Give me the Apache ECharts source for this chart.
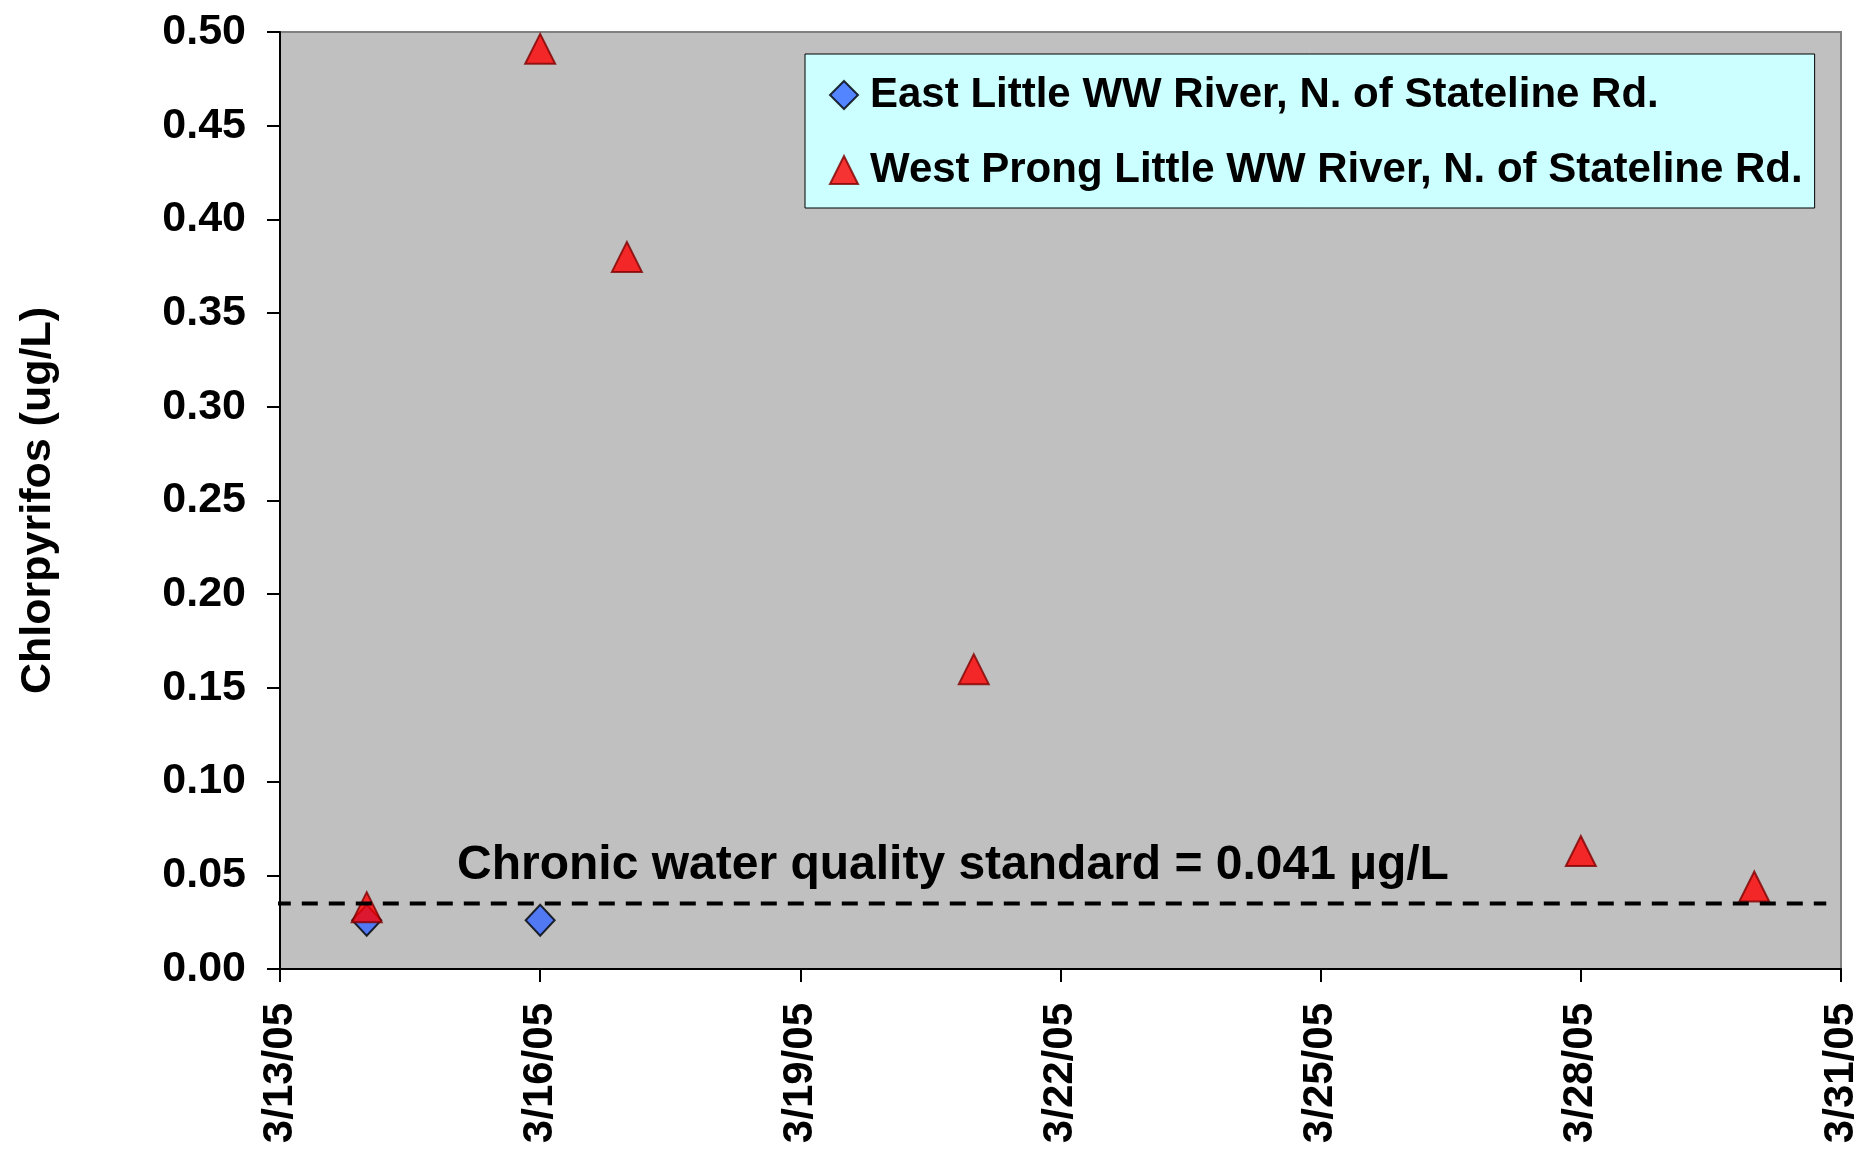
<!DOCTYPE html>
<html>
<head>
<meta charset="utf-8">
<script src="https://cdn.jsdelivr.net/npm/echarts@6/dist/echarts.min.js"></script>
<style>
html,body{margin:0;padding:0;background:#fff;}
#c{width:1862px;height:1154px;}
</style>
</head>
<body>
<div id="c"></div>
<script>
// Dates are day-of-March 2005
const xTickDays = [13, 16, 19, 22, 25, 28, 31];
const xTickLabels = ['3/13/05', '3/16/05', '3/19/05', '3/22/05', '3/25/05', '3/28/05', '3/31/05'];
const yTickLabels = ['0.00','0.05','0.10','0.15','0.20','0.25','0.30','0.35','0.40','0.45','0.50'];

const eastDates = ['3/14/05', '3/16/05'];
const eastValues = [0.026, 0.026];

const westDates = ['3/14/05', '3/16/05', '3/17/05', '3/21/05', '3/28/05', '3/30/05'];
const westValues = [0.033, 0.491, 0.380, 0.160, 0.063, 0.044];

// dashed reference line (drawn value) and its span in days
const standardLineValue = 0.035;
const standardLineSpan = [12.94, 30.83];
const standardText = 'Chronic water quality standard = 0.041 \u00b5g/L';
const standardTextPos = [20.76, 0.0550];

const seriesNames = ['East Little WW River, N. of Stateline Rd.', 'West Prong Little WW River, N. of Stateline Rd.'];

function dayOf(d) { return parseFloat(d.split('/')[1]); }

const FONT = '"Liberation Sans", Arial, sans-serif';

const chart = echarts.init(document.getElementById('c'), null, {renderer: 'canvas'});
chart.setOption({
  animation: false,
  backgroundColor: '#ffffff',
  grid: {
    left: 280, top: 32, right: 20, bottom: 185,
    show: true, backgroundColor: '#C0C0C0', borderColor: '#808080', borderWidth: 2
  },
  legend: {
    orient: 'vertical',
    left: 805, top: 54,
    padding: [20, 12, 17, 24],
    backgroundColor: '#CCFFFF',
    borderColor: '#000000',
    borderWidth: 1,
    itemGap: 33,
    itemWidth: 28, itemHeight: 28,
    textStyle: {fontFamily: FONT, fontWeight: 'bold', fontSize: 42, color: '#000', padding: [0, 0, 0, 7]},
    data: [
      {name: seriesNames[0], icon: 'diamond'},
      {name: seriesNames[1], icon: 'triangle'}
    ]
  },
  xAxis: {
    type: 'value',
    min: xTickDays[0], max: xTickDays[xTickDays.length - 1], interval: 3,
    splitLine: {show: false},
    axisLine: {show: true, lineStyle: {color: '#000', width: 2}},
    axisTick: {show: true, length: 13, lineStyle: {color: '#000', width: 2}},
    axisLabel: {
      rotate: 90, margin: 34,
      fontFamily: FONT, fontWeight: 'bold', fontSize: 42, color: '#000',
      formatter: function (v) { const i = xTickDays.indexOf(v); return i >= 0 ? xTickLabels[i] : ''; }
    }
  },
  yAxis: {
    type: 'value',
    min: 0, max: 0.5, interval: 0.05,
    name: 'Chlorpyrifos (ug/L)',
    nameLocation: 'middle',
    nameGap: 220,
    nameTextStyle: {fontFamily: FONT, fontWeight: 'bold', fontSize: 43, color: '#000'},
    splitLine: {show: false},
    axisLine: {show: true, lineStyle: {color: '#000', width: 2}},
    axisTick: {show: true, length: 13, lineStyle: {color: '#000', width: 2}},
    axisLabel: {
      margin: 34,
      fontFamily: FONT, fontWeight: 'bold', fontSize: 43, color: '#000',
      formatter: function (v) { return yTickLabels[Math.round(v / 0.05)]; }
    }
  },
  series: [
    {
      name: 'standard',
      type: 'line',
      silent: true,
      clip: false,
      symbol: 'none',
      lineStyle: {color: '#000', type: [16, 11], width: 4},
      data: [[standardLineSpan[0], standardLineValue], [standardLineSpan[1], standardLineValue]],
      z: 3,
      markPoint: {
        silent: true,
        symbol: 'circle',
        symbolSize: 1,
        itemStyle: {color: 'rgba(0,0,0,0)', borderWidth: 0},
        label: {
          show: true, position: 'inside',
          fontFamily: FONT, fontWeight: 'bold', fontSize: 48, color: '#000',
          formatter: standardText
        },
        data: [{coord: standardTextPos}]
      }
    },
    {
      name: seriesNames[0],
      type: 'scatter',
      symbol: 'diamond',
      symbolSize: [29, 31],
      itemStyle: {color: '#3366FF', borderColor: '#000000', borderWidth: 2},
      data: eastDates.map((d, i) => [dayOf(d), eastValues[i]]),
      z: 2
    },
    {
      name: seriesNames[1],
      type: 'scatter',
      symbol: 'triangle',
      symbolSize: [30, 30],
      itemStyle: {color: '#FF0000', borderColor: '#800000', borderWidth: 2},
      data: westDates.map((d, i) => [dayOf(d), westValues[i]]),
      z: 2
    }
  ]
});
</script>
</body>
</html>
